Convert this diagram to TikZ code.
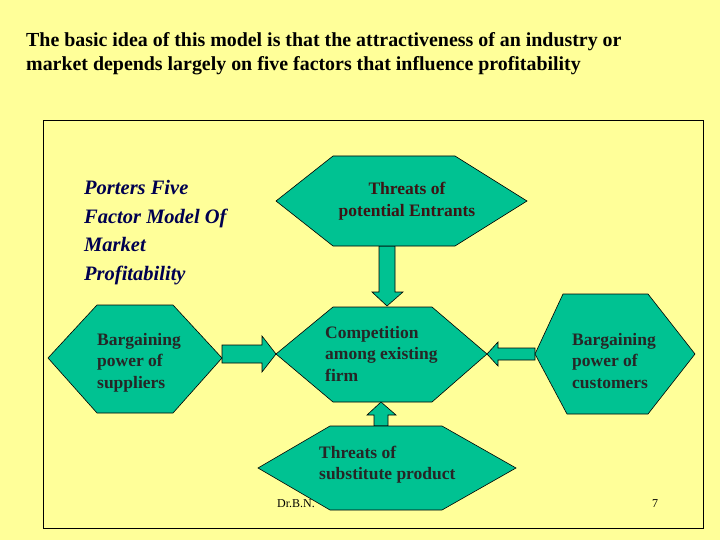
\documentclass[tikz,border=0pt]{standalone}
\usepackage{fontspec}
\setmainfont{Liberation Serif}
\begin{document}
\begin{tikzpicture}[x=1pt,y=-1pt,
  hex/.style={fill=hexc, draw=black, line width=0.6pt},
  barrow/.style={fill=hexc, draw=black, line width=0.6pt},
  lab/.style={font=\bfseries\fontsize{17.5}{21.5}\selectfont, align=left, anchor=base west, inner sep=0, text=black!85}]
\definecolor{bg}{RGB}{255,255,153}
\definecolor{hexc}{RGB}{0,194,146}
\definecolor{navy}{RGB}{0,0,80}
\definecolor{maroon}{RGB}{60,20,20}
\fill[bg] (0,0) rectangle (720,540);
\useasboundingbox (0,0) rectangle (720,540);
\node[lab, font=\bfseries\fontsize{19.9}{24}\selectfont, text=black] (title) at (26,71) {The basic idea of this model is that the attractiveness of an industry or\\market depends largely on five factors that influence profitability};
\draw[line width=1pt] (43,121) rectangle (703,528);
\node[lab, font=\bfseries\itshape\fontsize{20.5}{28.5}\selectfont, text=navy] (heading) at (84,280) {Porters Five\\Factor Model Of\\Market\\Profitability};
\node[anchor=base west, font=\fontsize{12}{14}\selectfont, inner sep=0] (foot) at (277,507) {Dr.B.N.};
\node[anchor=base, font=\fontsize{12}{14}\selectfont, inner sep=0] (page) at (655,507) {7};
% arrows
\draw[barrow] (379,246) -- (395,246) -- (395,292) -- (403,292) -- (387,306) -- (372,292) -- (379,292) -- cycle;
\draw[barrow] (374,426) -- (388,426) -- (388,415) -- (396,415) -- (381,402) -- (367,415) -- (374,415) -- cycle;
\draw[barrow] (222,345) -- (262,345) -- (262,336) -- (276,354) -- (262,372) -- (262,363) -- (222,363) -- cycle;
\draw[barrow] (535,348) -- (498,348) -- (498,342) -- (487,354) -- (498,366) -- (498,360) -- (535,360) -- cycle;
% hexagons
\draw[hex] (276,201) -- (333,156) -- (455,156) -- (527,201) -- (455,246) -- (333,246) -- cycle;
\node[lab, align=center, anchor=base, text=maroon] (entrants) at (407,216.5) {Threats of\\potential Entrants};
\draw[hex] (276,354) -- (333,307) -- (432,307) -- (487,354) -- (432,402) -- (333,402) -- cycle;
\node[lab] (comp) at (325,381) {Competition\\among existing\\firm};
\draw[hex] (48,358) -- (97,305) -- (173,305) -- (222,358) -- (173,413) -- (97,413) -- cycle;
\node[lab] (supp) at (97,388) {Bargaining\\power of\\suppliers};
\draw[hex] (535,354) -- (563,294) -- (648,294) -- (695,354) -- (648,414) -- (567,414) -- cycle;
\node[lab] (cust) at (572,388) {Bargaining\\power of\\customers};
\draw[hex] (258,468) -- (330,426) -- (442,426) -- (516,468) -- (442,510) -- (330,510) -- cycle;
\node[lab] (subst) at (319,479.5) {Threats of\\substitute product};
\end{tikzpicture}
\end{document}
